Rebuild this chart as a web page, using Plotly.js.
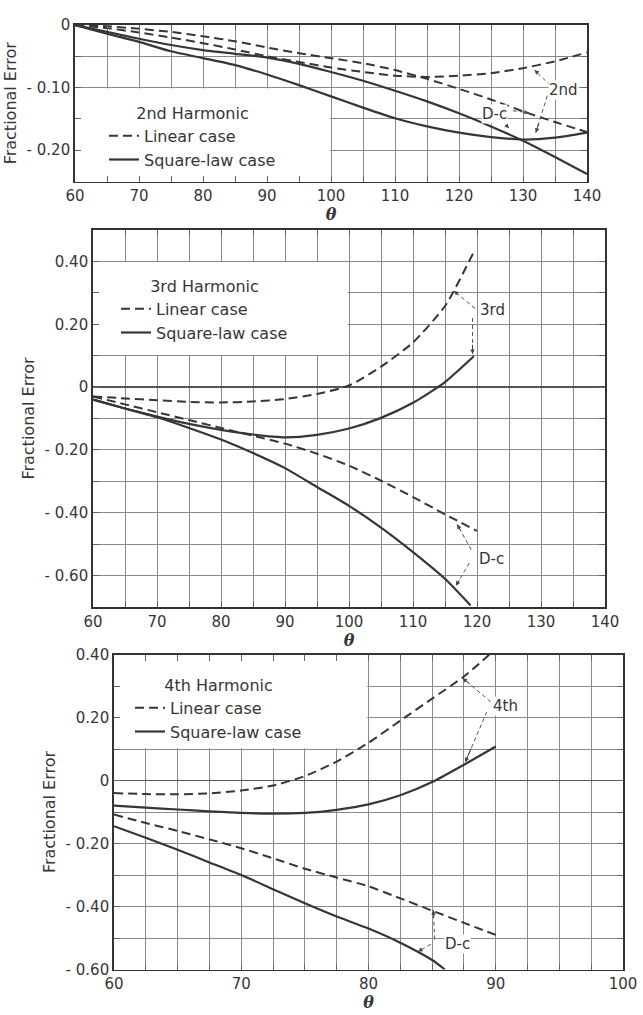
<!DOCTYPE html>
<html>
<head>
<meta charset="utf-8">
<script src="https://cdn.plot.ly/plotly-3.0.1.min.js"></script>
<style>html,body{margin:0;padding:0;background:#fff;}#chart{width:643px;height:1015px;}</style>
</head>
<body>
<div id="chart"></div>
<script>
// ---------- DATA ----------
// 2nd harmonic panel
const theta2 = [60,65,70,75,80,85,90,95,100,105,110,115,120,125,130,135,140];
const lin2   = [0,-0.005,-0.012,-0.020,-0.029,-0.039,-0.050,-0.059,-0.068,-0.075,-0.081,-0.083,-0.081,-0.077,-0.069,-0.058,-0.044];
const sq2    = [0,-0.014,-0.027,-0.042,-0.053,-0.064,-0.079,-0.096,-0.114,-0.132,-0.149,-0.162,-0.172,-0.179,-0.183,-0.180,-0.172];
const linDc2 = [0,-0.002,-0.006,-0.011,-0.018,-0.026,-0.036,-0.045,-0.053,-0.061,-0.072,-0.086,-0.102,-0.119,-0.138,-0.155,-0.171];
const sqDc2  = [0,-0.011,-0.022,-0.032,-0.040,-0.046,-0.052,-0.062,-0.075,-0.089,-0.105,-0.122,-0.141,-0.162,-0.185,-0.211,-0.238];

// 3rd harmonic panel
const theta3   = [60,65,70,75,80,85,90,95,100,105,110,115,119.5];
const lin3     = [-0.030,-0.036,-0.042,-0.047,-0.049,-0.046,-0.038,-0.022,0.005,0.065,0.142,0.258,0.43];
const sq3      = [-0.040,-0.068,-0.094,-0.117,-0.136,-0.151,-0.160,-0.152,-0.132,-0.098,-0.050,0.016,0.098];
const thetaDc3 = [60,65,70,75,80,85,90,95,100,105,110,115,120];
const linDc3   = [-0.030,-0.055,-0.080,-0.105,-0.130,-0.155,-0.180,-0.212,-0.250,-0.298,-0.350,-0.405,-0.458];
const thetaSqDc3 = [60,65,70,75,80,85,90,95,100,105,110,115,119];
const sqDc3    = [-0.040,-0.068,-0.096,-0.130,-0.167,-0.210,-0.258,-0.318,-0.378,-0.447,-0.525,-0.610,-0.695];

// 4th harmonic panel
const theta4   = [60,62.5,65,67.5,70,72.5,75,77.5,80,82.5,85,87.5,89.5];
const lin4     = [-0.040,-0.043,-0.044,-0.041,-0.032,-0.016,0.014,0.060,0.120,0.190,0.260,0.330,0.400];
const thetaSq4 = [60,62.5,65,67.5,70,72.5,75,77.5,80,82.5,85,87.5,90];
const sq4      = [-0.080,-0.086,-0.092,-0.098,-0.103,-0.105,-0.103,-0.093,-0.076,-0.047,-0.005,0.050,0.108];
const thetaDc4 = [60,62.5,65,67.5,70,72.5,75,77.5,80,82.5,85,87.5,90];
const linDc4   = [-0.108,-0.135,-0.160,-0.187,-0.215,-0.247,-0.280,-0.308,-0.336,-0.374,-0.413,-0.452,-0.490];
const thetaSqDc4 = [60,62.5,65,67.5,70,72.5,75,77.5,80,82.5,85,86];
const sqDc4    = [-0.145,-0.182,-0.220,-0.260,-0.300,-0.345,-0.390,-0.432,-0.470,-0.515,-0.570,-0.600];

// tick labels
const xTickVals1 = [60,70,80,90,100,110,120,130,140];
const xTickText1 = ['60','70','80','90','100','110','120','130','140'];
const xTickVals3 = [60,70,80,90,100];
const xTickText3 = ['60','70','80','90','100'];
const yTickVals1 = [0,-0.1,-0.2];
const yTickText1 = ['0','- 0.10','- 0.20'];
const yTickVals2 = [0.4,0.2,0,-0.2,-0.4,-0.6];
const yTickText2 = ['0.40','0.20','0','- 0.20','- 0.40','- 0.60'];

const legendTitles = ['2nd Harmonic','3rd Harmonic','4th Harmonic'];
const seriesNames  = ['Linear case','Square-law case'];

// ---------- STYLE ----------
const FONT = 'DejaVu Sans, sans-serif';
const INK = '#363636';
const GRID = '#8a8a8a';
const W = 643, H = 1015;
const px = v => v / W;
const py = v => 1 - v / H;

function xAxis(domain, range, vals, text, minorStep, anchor) {
  return {
    domain: domain, range: range, anchor: anchor,
    tickmode: 'array', tickvals: vals, ticktext: text,
    showline: true, mirror: 'ticks', linecolor: '#333', linewidth: 1.8,
    ticks: 'inside', ticklen: 6, tickwidth: 1, tickcolor: '#666',
    showgrid: true, gridcolor: GRID, gridwidth: 1, zeroline: false,
    minor: {tickmode: 'linear', tick0: 60, dtick: minorStep, showgrid: true, gridcolor: GRID, gridwidth: 1,
            ticks: 'inside', ticklen: 6, tickcolor: '#666'},
    tickfont: {family: FONT, size: 15, color: INK},
    title: {text: '<b><i>θ</i></b>', font: {family: 'DejaVu Serif, serif', size: 16, color: INK}, standoff: 3},
    automargin: false, fixedrange: true
  };
}
function yAxis(domain, range, vals, text, minorStep, anchor, zl) {
  return {
    domain: domain, range: range, anchor: anchor,
    tickmode: 'array', tickvals: vals, ticktext: text,
    showline: true, mirror: 'ticks', linecolor: '#333', linewidth: 1.8,
    ticks: 'inside', ticklen: 6, tickwidth: 1, tickcolor: '#666',
    showgrid: true, gridcolor: GRID, gridwidth: 1,
    zeroline: zl, zerolinecolor: '#555', zerolinewidth: 1.3,
    minor: {tickmode: 'linear', tick0: 0, dtick: minorStep, showgrid: true, gridcolor: GRID, gridwidth: 1,
            ticks: 'inside', ticklen: 6, tickcolor: '#666'},
    tickfont: {family: FONT, size: 15, color: INK},
    title: {text: 'Fractional Error', font: {family: FONT, size: 16, color: INK}, standoff: 6},
    automargin: false, fixedrange: true
  };
}

const dashed = {color: INK, width: 2, dash: '9px,5px', shape: 'spline', smoothing: 0.6};
const solid  = {color: INK, width: 2.2, shape: 'spline', smoothing: 0.6};

function panelTraces(xa, ya, leg, tl, yl, ts, ys, tld, yld, tsd, ysd) {
  return [
    {x: tl, y: yl, xaxis: xa, yaxis: ya, mode: 'lines', line: dashed, name: seriesNames[0], legend: leg, showlegend: true, hoverinfo: 'skip'},
    {x: ts, y: ys, xaxis: xa, yaxis: ya, mode: 'lines', line: solid, name: seriesNames[1], legend: leg, showlegend: true, hoverinfo: 'skip'},
    {x: tld, y: yld, xaxis: xa, yaxis: ya, mode: 'lines', line: dashed, name: 'D-c ' + seriesNames[0], legend: leg, showlegend: false, hoverinfo: 'skip'},
    {x: tsd, y: ysd, xaxis: xa, yaxis: ya, mode: 'lines', line: solid, name: 'D-c ' + seriesNames[1], legend: leg, showlegend: false, hoverinfo: 'skip'}
  ];
}

const data = [].concat(
  panelTraces('x', 'y', 'legend', theta2, lin2, theta2, sq2, theta2, linDc2, theta2, sqDc2),
  panelTraces('x2', 'y2', 'legend2', theta3, lin3, theta3, sq3, thetaDc3, linDc3, thetaSqDc3, sqDc3),
  panelTraces('x3', 'y3', 'legend3', theta4, lin4, thetaSq4, sq4, thetaDc4, linDc4, thetaSqDc4, sqDc4)
);

// ---------- annotations & arrows ----------
const shapes = [];
const annotations = [];
function label(xa, ya, x, y, text) {
  annotations.push({xref: xa, yref: ya, x: x, y: y, text: text, showarrow: false,
    font: {family: FONT, size: 15, color: INK}, bgcolor: 'white', borderpad: 0});
}
function arrow(xa, ya, tail, tip) {
  shapes.push({type: 'line', xref: xa, yref: ya, x0: tail[0], y0: tail[1], x1: tip[0], y1: tip[1],
    line: {color: '#555', width: 1, dash: '4px,3px'}, layer: 'above'});
  annotations.push({xref: xa, yref: ya, x: tip[0], y: tip[1], axref: xa, ayref: ya,
    ax: tip[0] + (tail[0] - tip[0]) * 0.3, ay: tip[1] + (tail[1] - tip[1]) * 0.3,
    showarrow: true, arrowhead: 2, arrowsize: 0.9, arrowwidth: 1, arrowcolor: '#444', text: '', standoff: 0});
}
function whiteBox(xa, ya, x0, x1, y0, y1) {
  shapes.push({type: 'rect', xref: xa, yref: ya, x0: x0, x1: x1, y0: y0, y1: y1,
    fillcolor: 'white', line: {width: 0}, layer: 'between'});
}

// panel 1
whiteBox('x', 'y', 60.2, 99.8, -0.249, -0.1015);
label('x', 'y', 136.3, -0.104, '2nd');
arrow('x', 'y', [134.3, -0.097], [131.8, -0.072]);
arrow('x', 'y', [133.8, -0.113], [132.0, -0.172]);
label('x', 'y', 125.6, -0.142, 'D-c');
arrow('x', 'y', [128.4, -0.137], [130.9, -0.140]);
arrow('x', 'y', [126.6, -0.151], [127.8, -0.165]);

// panel 2
whiteBox('x2', 'y2', 60.2, 99.8, 0.102, 0.398);
label('x2', 'y2', 122.4, 0.245, '3rd');
arrow('x2', 'y2', [119.7, 0.250], [116.4, 0.306]);
arrow('x2', 'y2', [119.3, 0.220], [119.3, 0.105]);
label('x2', 'y2', 122.2, -0.547, 'D-c');
arrow('x2', 'y2', [119.1, -0.518], [116.9, -0.437]);
arrow('x2', 'y2', [118.8, -0.560], [116.7, -0.632]);

// panel 3
whiteBox('x3', 'y3', 60.1, 79.9, 0.102, 0.399);
label('x3', 'y3', 90.8, 0.237, '4th');
arrow('x3', 'y3', [89.6, 0.250], [87.4, 0.325]);
arrow('x3', 'y3', [89.3, 0.218], [87.6, 0.058]);
label('x3', 'y3', 87.0, -0.520, 'D-c');
arrow('x3', 'y3', [85.2, -0.505], [85.1, -0.412]);
arrow('x3', 'y3', [84.9, -0.520], [83.9, -0.543]);

function legendCfg(i, x, y) {
  return {
    x: x, y: y, xanchor: 'left', yanchor: 'top', xref: 'paper', yref: 'paper',
    bgcolor: 'rgba(255,255,255,0)', borderwidth: 0,
    font: {family: FONT, size: 16, color: INK},
    title: {text: legendTitles[i], side: 'top center', font: {family: FONT, size: 16, color: INK}},
    itemwidth: 30, tracegroupgap: 0, traceorder: 'normal'
  };
}

const layout = {
  width: W, height: H,
  margin: {l: 0, r: 0, t: 0, b: 0},
  paper_bgcolor: 'white', plot_bgcolor: 'white',
  font: {family: FONT, color: INK},
  showlegend: true,
  xaxis:  xAxis([px(75), px(587)], [60, 140], xTickVals1, xTickText1, 5, 'y'),
  yaxis:  yAxis([py(181.5), py(25)], [-0.25, 0], yTickVals1, yTickText1, 0.05, 'x', false),
  xaxis2: xAxis([px(93), px(605)], [60, 140], xTickVals1, xTickText1, 5, 'y2'),
  yaxis2: yAxis([py(607), py(230)], [-0.70, 0.50], yTickVals2, yTickText2, 0.1, 'x2', true),
  xaxis3: xAxis([px(114), px(623)], [60, 100], xTickVals3, xTickText3, 2.5, 'y3'),
  yaxis3: yAxis([py(969.5), py(654.5)], [-0.60, 0.40], yTickVals2, yTickText2, 0.1, 'x3', true),
  legend:  legendCfg(0, px(104), py(98)),
  legend2: legendCfg(1, px(116), py(271)),
  legend3: legendCfg(2, px(130), py(670)),
  shapes: shapes,
  annotations: annotations
};

Plotly.newPlot('chart', data, layout, {staticPlot: true, displayModeBar: false});
</script>
</body>
</html>
